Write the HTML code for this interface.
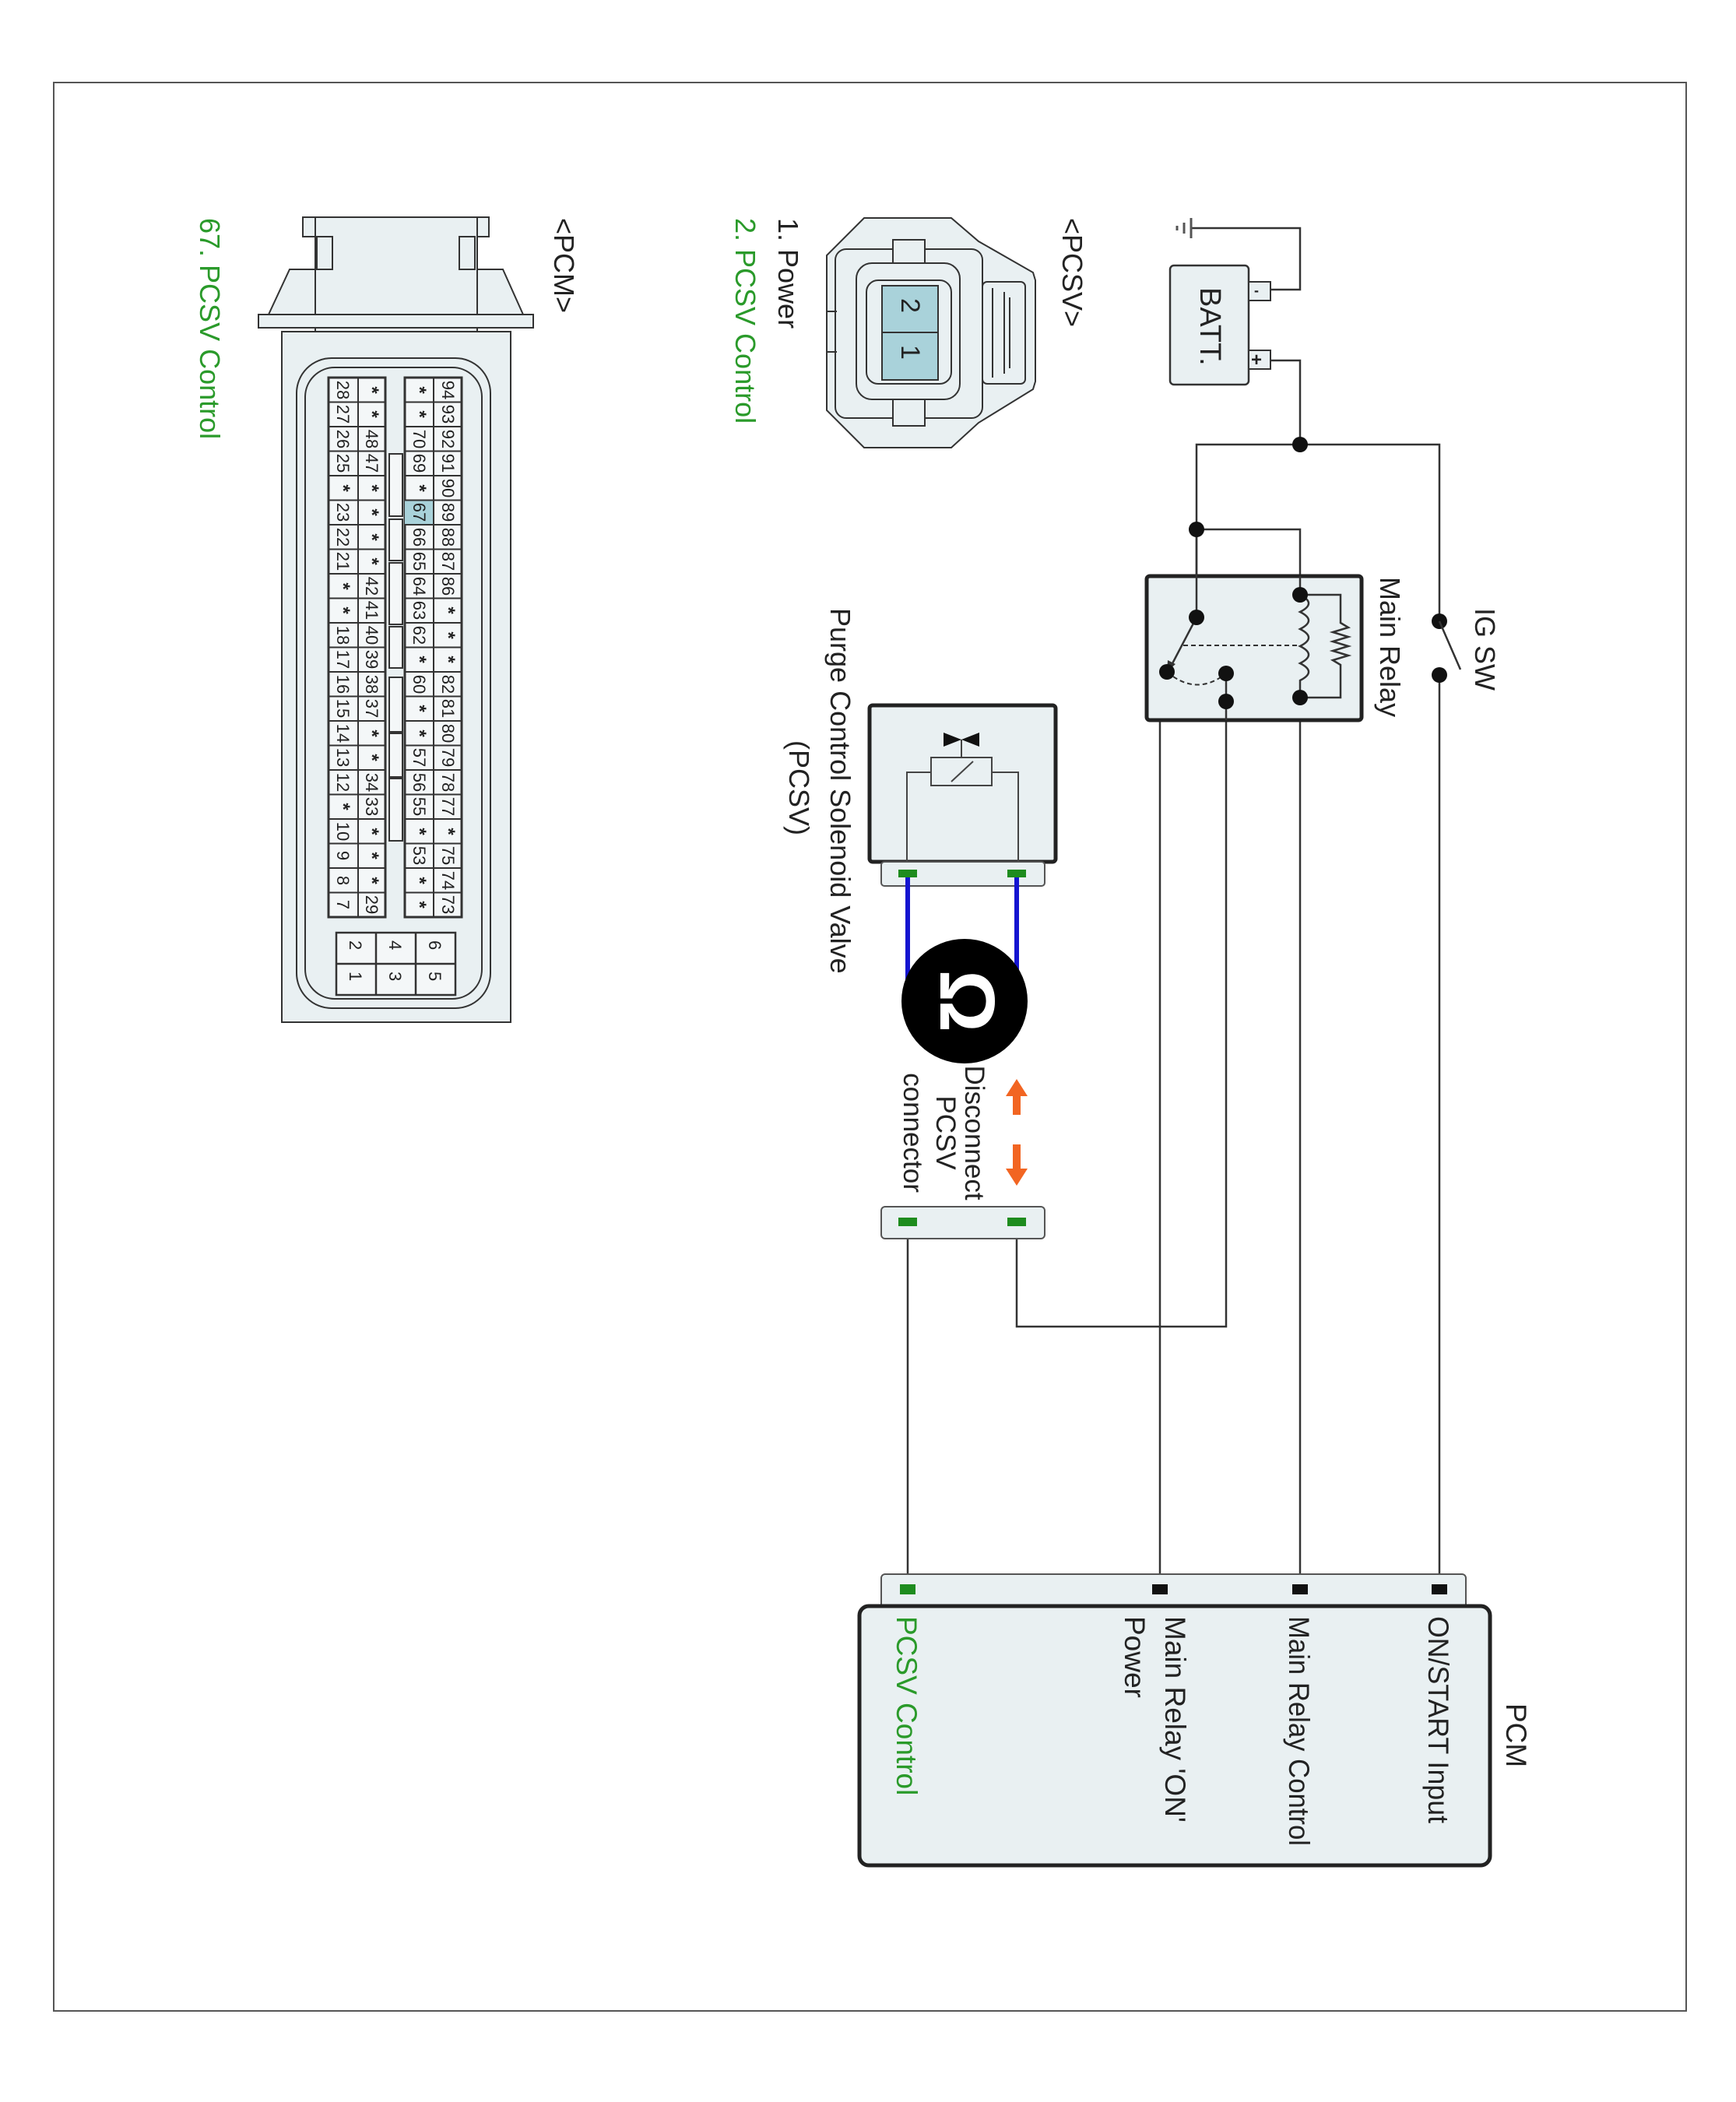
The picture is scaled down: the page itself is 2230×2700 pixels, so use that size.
<!DOCTYPE html>
<html><head><meta charset="utf-8"><style>
html,body{margin:0;padding:0;background:#fff;}
svg{display:block;}
text{font-family:"Liberation Sans",Arial,sans-serif;}
.st{font-weight:bold;font-size:24px;}
</style></head><body>
<svg width="2230" height="2700" viewBox="0 0 2230 2700" xmlns="http://www.w3.org/2000/svg">
<rect x="69" y="106" width="2097" height="2477" fill="#fff" stroke="#555" stroke-width="2"/>

<!-- ============ PCM connector (left) ============ -->
<g stroke="#333" stroke-width="2" fill="#e9f0f2">
  <rect x="389" y="279" width="239" height="25"/>
  <rect x="405" y="279" width="208" height="149"/>
  <rect x="407" y="304" width="20" height="42"/>
  <rect x="590" y="304" width="20" height="42"/>
  <polygon points="372,346 405,346 405,404 345,404"/>
  <polygon points="613,346 646,346 672,404 613,404"/>
  <rect x="332" y="404" width="353" height="17"/>
  <rect x="362" y="426" width="294" height="887"/>
  <rect x="381" y="460" width="249" height="835" rx="45"/>
  <rect x="392" y="472" width="227" height="811" rx="38" fill="none"/>
</g>
<g stroke="#333" stroke-width="3" fill="#f4f7f8">
  <rect x="422" y="485" width="73" height="693"/>
  <rect x="520" y="485" width="73" height="693"/>
</g>
<g fill="#f4f7f8" stroke="#333" stroke-width="2">
  <rect x="500" y="583" width="17" height="80"/>
  <rect x="500" y="667" width="17" height="53"/>
  <rect x="500" y="723" width="17" height="79"/>
  <rect x="500" y="805" width="17" height="53"/>
  <rect x="500" y="870" width="17" height="70"/>
  <rect x="500" y="942" width="17" height="56"/>
  <rect x="500" y="1000" width="17" height="80"/>
</g>
<rect x="520" y="642" width="37" height="31.5" fill="#a9d2da"/>
<g stroke="#333" stroke-width="2">
  <line x1="460" y1="485" x2="460" y2="1178"/>
  <line x1="557" y1="485" x2="557" y2="1178"/>
</g>
<g stroke="#333" stroke-width="2.5" fill="#f4f7f8">
  <rect x="432" y="1198" width="153" height="80"/>
  <line x1="483" y1="1198" x2="483" y2="1278"/>
  <line x1="534" y1="1198" x2="534" y2="1278"/>
  <line x1="432" y1="1238" x2="585" y2="1238"/>
</g>
<g font-size="22" fill="#222">
  <text transform="translate(449,1208) rotate(90)">2</text>
  <text transform="translate(449,1248) rotate(90)">1</text>
  <text transform="translate(500,1208) rotate(90)">4</text>
  <text transform="translate(500,1248) rotate(90)">3</text>
  <text transform="translate(551,1208) rotate(90)">6</text>
  <text transform="translate(551,1248) rotate(90)">5</text>
</g>
<text transform="translate(712,280) rotate(90)" font-size="36" fill="#222">&lt;PCM&gt;</text>
<text transform="translate(257,280) rotate(90)" font-size="36" fill="#2a9a2a">67. PCSV Control</text>

<!-- ============ PCSV connector ============ -->
<g stroke="#333" stroke-width="2" fill="#e9f0f2">
  <polygon points="1110,280 1222,280 1257,310 1327,350 1330,360 1330,490 1327,500 1257,543 1222,575 1110,575 1062,527 1062,328"/>
  <rect x="1073" y="320" width="189" height="217" rx="14"/>
  <rect x="1147" y="308" width="41" height="35"/>
  <rect x="1147" y="512" width="41" height="35"/>
  <rect x="1100" y="338" width="133" height="175" rx="20"/>
  <rect x="1113" y="360" width="109" height="133" rx="15"/>
  <rect x="1262" y="362" width="55" height="131" rx="6"/>
  <line x1="1275" y1="370" x2="1275" y2="485"/>
  <line x1="1290" y1="375" x2="1290" y2="480"/>
  <line x1="1297" y1="382" x2="1297" y2="473"/>
  <line x1="1062" y1="400" x2="1075" y2="400"/>
  <line x1="1062" y1="452" x2="1075" y2="452"/>
</g>
<g stroke="#333" stroke-width="2" fill="#a9d2da">
  <rect x="1133" y="367" width="72" height="60"/>
  <rect x="1133" y="427" width="72" height="61"/>
</g>
<text transform="translate(1158,383) rotate(90)" font-size="34" fill="#222">2</text>
<text transform="translate(1158,443) rotate(90)" font-size="34" fill="#222">1</text>
<text transform="translate(1365,280) rotate(90)" font-size="36" fill="#222">&lt;PCSV&gt;</text>
<text transform="translate(1000,280) rotate(90)" font-size="36" fill="#222">1. Power</text>
<text transform="translate(945,280) rotate(90)" font-size="36" fill="#2a9a2a">2. PCSV Control</text>

<!-- ============ Wires ============ -->
<g stroke="#333" stroke-width="2.5" fill="none">
  <polyline points="1632,372 1670,372 1670,293 1530,293"/>
  <polyline points="1632,463 1670,463 1670,571"/>
  <polyline points="1537,793 1537,571 1849,571 1849,798"/>
  <line x1="1849" y1="867" x2="1849" y2="2041"/>
  <polyline points="1537,680 1670,680 1670,764"/>
  <line x1="1670" y1="896" x2="1670" y2="2041"/>
  <polyline points="1575,901 1490,901 1490,2041"/>
  <polyline points="1575,865 1575,1704 1306,1704 1306,1570"/>
  <line x1="1166" y1="1570" x2="1166" y2="2041"/>
</g>
<g stroke="#555" stroke-width="3">
  <line x1="1530" y1="280" x2="1530" y2="306"/>
  <line x1="1521" y1="286" x2="1521" y2="300"/>
  <line x1="1512" y1="290" x2="1512" y2="296"/>
</g>

<!-- Battery -->
<rect x="1503" y="341" width="101" height="153" rx="5" fill="#e9f0f2" stroke="#333" stroke-width="2.5"/>
<rect x="1604" y="362" width="28" height="24" fill="#e9f0f2" stroke="#333" stroke-width="2"/>
<rect x="1604" y="450" width="28" height="24" fill="#e9f0f2" stroke="#333" stroke-width="2"/>
<text x="1611" y="379" font-size="18" font-weight="bold" fill="#222">-</text>
<text x="1607" y="470" font-size="24" font-weight="bold" fill="#222">+</text>
<text transform="translate(1542,369) rotate(90)" font-size="38" fill="#222">BATT.</text>

<!-- Main relay -->
<rect x="1473" y="740" width="276" height="185" rx="4" fill="#e9f0f2" stroke="#222" stroke-width="5"/>
<g stroke="#333" stroke-width="2.5" fill="none">
  <polyline points="1537,680 1537,793"/>
  <polyline points="1670,740 1670,764"/>
  <path d="M1670,764 q22,11 0,22 q22,11 0,22 q22,11 0,22 q22,11 0,22 q22,11 0,22 l0,22"/>
  <polyline points="1670,764 1722,764 1722,800 1732,806 1712,812 1732,818 1712,824 1732,830 1712,836 1732,842 1712,848 1722,854 1722,896 1670,896"/>
  <line x1="1537" y1="793" x2="1503" y2="858"/>
  <line x1="1575" y1="865" x2="1575" y2="925"/>
</g>
<polygon points="1499,863 1500,848 1510,853" fill="#333"/>
<line x1="1520" y1="829" x2="1670" y2="829" stroke="#333" stroke-width="2" stroke-dasharray="6,4"/>
<path d="M1499,863 Q1537,895 1575,865" stroke="#333" stroke-width="2" fill="none" stroke-dasharray="6,4"/>
<g fill="#111">
  <circle cx="1670" cy="571" r="10"/>
  <circle cx="1537" cy="680" r="10"/>
  <circle cx="1537" cy="793" r="10"/>
  <circle cx="1670" cy="764" r="10"/>
  <circle cx="1670" cy="896" r="10"/>
  <circle cx="1499" cy="863" r="10"/>
  <circle cx="1575" cy="865" r="10"/>
  <circle cx="1575" cy="901" r="10"/>
  <circle cx="1849" cy="798" r="10"/>
  <circle cx="1849" cy="867" r="10"/>
</g>
<line x1="1849" y1="798" x2="1876" y2="860" stroke="#333" stroke-width="2.5"/>
<text transform="translate(1895,781) rotate(90)" font-size="36" fill="#222">IG SW</text>
<text transform="translate(1773,741) rotate(90)" font-size="36" fill="#222">Main Relay</text>

<!-- PCSV valve -->
<rect x="1117" y="906" width="239" height="201" rx="4" fill="#e9f0f2" stroke="#222" stroke-width="5"/>
<g stroke="#444" stroke-width="2" fill="none">
  <polyline points="1165,1107 1165,992 1196,992"/>
  <polyline points="1308,1107 1308,992 1274,992"/>
  <rect x="1196" y="973" width="78" height="36" fill="#e9f0f2"/>
  <line x1="1222" y1="1004" x2="1250" y2="978"/>
  <line x1="1235" y1="973" x2="1235" y2="950"/>
</g>
<polygon points="1212,941 1235,950 1212,959" fill="#111"/>
<polygon points="1258,941 1235,950 1258,959" fill="#111"/>
<rect x="1132" y="1107" width="210" height="31" rx="4" fill="#e9f0f2" stroke="#555" stroke-width="2"/>
<rect x="1154" y="1117" width="24" height="10" fill="#1e8c1e"/>
<rect x="1294" y="1117" width="24" height="10" fill="#1e8c1e"/>
<g stroke="#1414d0" stroke-width="6">
  <line x1="1166" y1="1127" x2="1166" y2="1270"/>
  <line x1="1306" y1="1127" x2="1306" y2="1270"/>
</g>
<ellipse cx="1239" cy="1286" rx="81" ry="80" fill="#000"/>
<text transform="translate(1208,1286) rotate(90)" font-size="100" font-weight="bold" fill="#fff" text-anchor="middle">Ω</text>
<text transform="translate(1067,781) rotate(90)" font-size="36" fill="#222">Purge Control Solenoid Valve</text>
<text transform="translate(1014,1012) rotate(90)" font-size="36" fill="#222" text-anchor="middle">(PCSV)</text>

<!-- orange arrows -->
<g fill="#f26522">
  <polygon points="1306,1386 1292,1408 1301,1408 1301,1432 1311,1432 1311,1408 1320,1408"/>
  <polygon points="1306,1523 1292,1501 1301,1501 1301,1470 1311,1470 1311,1501 1320,1501"/>
</g>
<text transform="translate(1240,1455) rotate(90)" font-size="35" fill="#222" text-anchor="middle">Disconnect</text>
<text transform="translate(1203,1455) rotate(90)" font-size="35" fill="#222" text-anchor="middle">PCSV</text>
<text transform="translate(1161,1455) rotate(90)" font-size="35" fill="#222" text-anchor="middle">connector</text>

<rect x="1132" y="1550" width="210" height="41" rx="5" fill="#e9f0f2" stroke="#555" stroke-width="2"/>
<rect x="1154" y="1564" width="24" height="11" fill="#1e8c1e"/>
<rect x="1294" y="1564" width="24" height="11" fill="#1e8c1e"/>

<!-- PCM -->
<rect x="1132" y="2022" width="751" height="50" rx="5" fill="#e9f0f2" stroke="#555" stroke-width="2"/>
<rect x="1104" y="2063" width="810" height="333" rx="12" fill="#e9f0f2" stroke="#222" stroke-width="5"/>
<rect x="1156" y="2035" width="20" height="13" fill="#1e8c1e"/>
<rect x="1480" y="2035" width="20" height="13" fill="#111"/>
<rect x="1660" y="2035" width="20" height="13" fill="#111"/>
<rect x="1839" y="2035" width="20" height="13" fill="#111"/>
<text transform="translate(1935,2188) rotate(90)" font-size="37" fill="#222">PCM</text>
<g font-size="37" fill="#222">
  <text transform="translate(1835,2076) rotate(90)" textLength="266" lengthAdjust="spacingAndGlyphs">ON/START Input</text>
  <text transform="translate(1656,2076) rotate(90)" textLength="295" lengthAdjust="spacingAndGlyphs">Main Relay Control</text>
  <text transform="translate(1497,2076) rotate(90)">Main Relay 'ON'</text>
  <text transform="translate(1445,2076) rotate(90)">Power</text>
  <text transform="translate(1152,2076) rotate(90)" fill="#2a9a2a">PCSV Control</text>
</g>

<!-- grid rows & numbers -->
<g stroke="#333" stroke-width="2">
<line x1="422" y1="516.5" x2="495" y2="516.5"/><line x1="520" y1="516.5" x2="593" y2="516.5"/>
<line x1="422" y1="548" x2="495" y2="548"/><line x1="520" y1="548" x2="593" y2="548"/>
<line x1="422" y1="579.5" x2="495" y2="579.5"/><line x1="520" y1="579.5" x2="593" y2="579.5"/>
<line x1="422" y1="611" x2="495" y2="611"/><line x1="520" y1="611" x2="593" y2="611"/>
<line x1="422" y1="642.5" x2="495" y2="642.5"/><line x1="520" y1="642.5" x2="593" y2="642.5"/>
<line x1="422" y1="674" x2="495" y2="674"/><line x1="520" y1="674" x2="593" y2="674"/>
<line x1="422" y1="705.5" x2="495" y2="705.5"/><line x1="520" y1="705.5" x2="593" y2="705.5"/>
<line x1="422" y1="737" x2="495" y2="737"/><line x1="520" y1="737" x2="593" y2="737"/>
<line x1="422" y1="768.5" x2="495" y2="768.5"/><line x1="520" y1="768.5" x2="593" y2="768.5"/>
<line x1="422" y1="800" x2="495" y2="800"/><line x1="520" y1="800" x2="593" y2="800"/>
<line x1="422" y1="831.5" x2="495" y2="831.5"/><line x1="520" y1="831.5" x2="593" y2="831.5"/>
<line x1="422" y1="863" x2="495" y2="863"/><line x1="520" y1="863" x2="593" y2="863"/>
<line x1="422" y1="894.5" x2="495" y2="894.5"/><line x1="520" y1="894.5" x2="593" y2="894.5"/>
<line x1="422" y1="926" x2="495" y2="926"/><line x1="520" y1="926" x2="593" y2="926"/>
<line x1="422" y1="957.5" x2="495" y2="957.5"/><line x1="520" y1="957.5" x2="593" y2="957.5"/>
<line x1="422" y1="989" x2="495" y2="989"/><line x1="520" y1="989" x2="593" y2="989"/>
<line x1="422" y1="1020.5" x2="495" y2="1020.5"/><line x1="520" y1="1020.5" x2="593" y2="1020.5"/>
<line x1="422" y1="1052" x2="495" y2="1052"/><line x1="520" y1="1052" x2="593" y2="1052"/>
<line x1="422" y1="1083.5" x2="495" y2="1083.5"/><line x1="520" y1="1083.5" x2="593" y2="1083.5"/>
<line x1="422" y1="1115" x2="495" y2="1115"/><line x1="520" y1="1115" x2="593" y2="1115"/>
<line x1="422" y1="1146.5" x2="495" y2="1146.5"/><line x1="520" y1="1146.5" x2="593" y2="1146.5"/>
</g>
<g font-size="22" fill="#222" text-anchor="middle">
<text transform="translate(433,501) rotate(90)">28</text><text class="st" transform="translate(470,501) rotate(90)">*</text><text class="st" transform="translate(531,501) rotate(90)">*</text><text transform="translate(568,501) rotate(90)">94</text>
<text transform="translate(433,532) rotate(90)">27</text><text class="st" transform="translate(470,532) rotate(90)">*</text><text class="st" transform="translate(531,532) rotate(90)">*</text><text transform="translate(568,532) rotate(90)">93</text>
<text transform="translate(433,564) rotate(90)">26</text><text transform="translate(470,564) rotate(90)">48</text><text transform="translate(531,564) rotate(90)">70</text><text transform="translate(568,564) rotate(90)">92</text>
<text transform="translate(433,595) rotate(90)">25</text><text transform="translate(470,595) rotate(90)">47</text><text transform="translate(531,595) rotate(90)">69</text><text transform="translate(568,595) rotate(90)">91</text>
<text class="st" transform="translate(433,627) rotate(90)">*</text><text class="st" transform="translate(470,627) rotate(90)">*</text><text class="st" transform="translate(531,627) rotate(90)">*</text><text transform="translate(568,627) rotate(90)">90</text>
<text transform="translate(433,658) rotate(90)">23</text><text class="st" transform="translate(470,658) rotate(90)">*</text><text transform="translate(531,658) rotate(90)">67</text><text transform="translate(568,658) rotate(90)">89</text>
<text transform="translate(433,690) rotate(90)">22</text><text class="st" transform="translate(470,690) rotate(90)">*</text><text transform="translate(531,690) rotate(90)">66</text><text transform="translate(568,690) rotate(90)">88</text>
<text transform="translate(433,721) rotate(90)">21</text><text class="st" transform="translate(470,721) rotate(90)">*</text><text transform="translate(531,721) rotate(90)">65</text><text transform="translate(568,721) rotate(90)">87</text>
<text class="st" transform="translate(433,753) rotate(90)">*</text><text transform="translate(470,753) rotate(90)">42</text><text transform="translate(531,753) rotate(90)">64</text><text transform="translate(568,753) rotate(90)">86</text>
<text class="st" transform="translate(433,784) rotate(90)">*</text><text transform="translate(470,784) rotate(90)">41</text><text transform="translate(531,784) rotate(90)">63</text><text class="st" transform="translate(568,784) rotate(90)">*</text>
<text transform="translate(433,816) rotate(90)">18</text><text transform="translate(470,816) rotate(90)">40</text><text transform="translate(531,816) rotate(90)">62</text><text class="st" transform="translate(568,816) rotate(90)">*</text>
<text transform="translate(433,847) rotate(90)">17</text><text transform="translate(470,847) rotate(90)">39</text><text class="st" transform="translate(531,847) rotate(90)">*</text><text class="st" transform="translate(568,847) rotate(90)">*</text>
<text transform="translate(433,879) rotate(90)">16</text><text transform="translate(470,879) rotate(90)">38</text><text transform="translate(531,879) rotate(90)">60</text><text transform="translate(568,879) rotate(90)">82</text>
<text transform="translate(433,910) rotate(90)">15</text><text transform="translate(470,910) rotate(90)">37</text><text class="st" transform="translate(531,910) rotate(90)">*</text><text transform="translate(568,910) rotate(90)">81</text>
<text transform="translate(433,942) rotate(90)">14</text><text class="st" transform="translate(470,942) rotate(90)">*</text><text class="st" transform="translate(531,942) rotate(90)">*</text><text transform="translate(568,942) rotate(90)">80</text>
<text transform="translate(433,973) rotate(90)">13</text><text class="st" transform="translate(470,973) rotate(90)">*</text><text transform="translate(531,973) rotate(90)">57</text><text transform="translate(568,973) rotate(90)">79</text>
<text transform="translate(433,1005) rotate(90)">12</text><text transform="translate(470,1005) rotate(90)">34</text><text transform="translate(531,1005) rotate(90)">56</text><text transform="translate(568,1005) rotate(90)">78</text>
<text class="st" transform="translate(433,1036) rotate(90)">*</text><text transform="translate(470,1036) rotate(90)">33</text><text transform="translate(531,1036) rotate(90)">55</text><text transform="translate(568,1036) rotate(90)">77</text>
<text transform="translate(433,1068) rotate(90)">10</text><text class="st" transform="translate(470,1068) rotate(90)">*</text><text class="st" transform="translate(531,1068) rotate(90)">*</text><text class="st" transform="translate(568,1068) rotate(90)">*</text>
<text transform="translate(433,1099) rotate(90)">9</text><text class="st" transform="translate(470,1099) rotate(90)">*</text><text transform="translate(531,1099) rotate(90)">53</text><text transform="translate(568,1099) rotate(90)">75</text>
<text transform="translate(433,1131) rotate(90)">8</text><text class="st" transform="translate(470,1131) rotate(90)">*</text><text class="st" transform="translate(531,1131) rotate(90)">*</text><text transform="translate(568,1131) rotate(90)">74</text>
<text transform="translate(433,1162) rotate(90)">7</text><text transform="translate(470,1162) rotate(90)">29</text><text class="st" transform="translate(531,1162) rotate(90)">*</text><text transform="translate(568,1162) rotate(90)">73</text>
</g>
</svg>
</body></html>
